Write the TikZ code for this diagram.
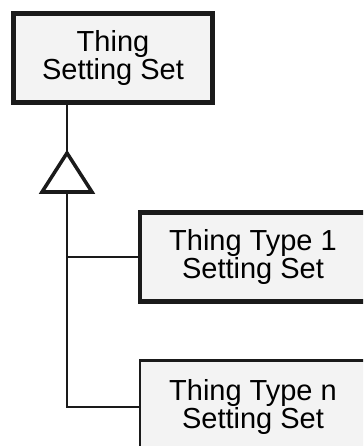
\documentclass[tikz,border=0pt]{standalone}
\usepackage{fontspec}
\setmainfont{Liberation Sans}
\usepackage{xcolor}
\usepackage{tikz}
\usetikzlibrary{arrows.meta,positioning,calc}
\definecolor{cBoxF}{HTML}{F3F3F3}
\definecolor{cBoxL}{HTML}{1A1A1A}

\begin{document}
\begin{tikzpicture}[x=0.02cm,y=-0.02cm,
  sset/.style={draw=cBoxL,fill=cBoxF,align=center,inner sep=0pt,
    font=\fontsize{16.5}{15.3}\selectfont},
  link/.style={draw=cBoxL,line width=1.6pt}]

  \useasboundingbox (0,0) rectangle (363,446);
  \clip (0,0) rectangle (363,446);

  % parent setting set
  \node[sset,line width=3pt,minimum width=3.98cm,minimum height=1.78cm]
    (base) at (113,58) {Thing\\Setting Set};

  % sub-type setting sets
  \node[sset,line width=2.4pt,minimum width=4.52cm,minimum height=1.78cm]
    (type1) at (253,257) {Thing Type 1\\Setting Set};
  \node[sset,line width=1.4pt,minimum width=4.52cm,minimum height=1.86cm]
    (typen) at (253,407) {Thing Type n\\Setting Set};

  % generalisation triangle
  \coordinate (apex) at (67,153);
  \coordinate (foot) at (67,192);
  \draw[draw=cBoxL,fill=white,line width=2pt,line join=miter]
    (apex) -- (42,192) -- (92,192) -- cycle;

  \draw[link] (apex |- base.south) -- (apex);
  \draw[link] (foot) -- (foot |- typen.west) -- (typen.west);
  \draw[link] (foot |- type1.west) -- (type1.west);
\end{tikzpicture}
\end{document}
